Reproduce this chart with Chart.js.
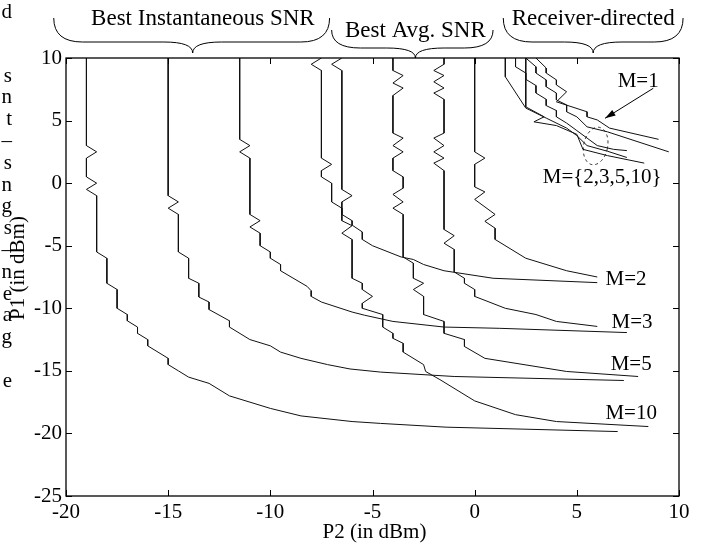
<!DOCTYPE html>
<html>
<head>
<meta charset="utf-8">
<script src="https://cdn.jsdelivr.net/npm/chart.js@4.4.1/dist/chart.umd.min.js"></script>
<style>
  html, body { margin: 0; padding: 0; background: #fff; }
  #wrap { width: 706px; height: 550px; }
</style>
</head>
<body>
<div id="wrap"><canvas id="chart" width="706" height="550"></canvas></div>
<script>
// axes: x = P2 (dBm), y = P1 (dBm)
const xTicks = [-20, -15, -10, -5, 0, 5, 10];
const yTicks = [10, 5, 0, -5, -10, -15, -20, -25];

// best instantaneous SNR contours, [P2, P1]
const instM10 = [[-19,10],[-19,3],[-18.5,2.5],[-19,2],[-19,0.5],[-18.5,0],[-19,-0.5],[-18.5,-1],[-18.5,-5.5],[-18,-6],[-18,-8],[-17.5,-8.5],[-17.5,-10],[-17,-10.5],[-17,-11],[-16.5,-11.5],[-16.5,-12],[-16,-12.5],[-16,-13],[-15,-14],[-15,-14.5],[-14.5,-15],[-14,-15.5],[-13,-16],[-12,-17],[-10,-18],[-8.5,-18.6],[-6,-19.05],[-4.6,-19.2],[-1.4,-19.5],[7,-19.85]];
const instM5 = [[-15,10],[-15,-1],[-14.5,-1.5],[-15,-2],[-14.5,-2.5],[-14.5,-5.5],[-14,-6],[-14,-7.6],[-13.5,-8],[-13.5,-9.1],[-13,-9.5],[-13,-10.1],[-12,-11],[-12,-11.5],[-11,-12.5],[-10,-13],[-9.5,-13.5],[-8.5,-14],[-7.2,-14.5],[-6.1,-14.85],[-4.6,-15.1],[-1,-15.45],[7.3,-15.77]];
const instM3 = [[-11.5,10],[-11.5,3.5],[-11,3],[-11.5,2.5],[-11,2],[-11,-2.5],[-10.5,-3],[-11,-3.5],[-10.5,-4],[-10.5,-5],[-10,-5.5],[-10,-6],[-9.5,-6.5],[-9.5,-7],[-8.2,-8.25],[-8,-8.6],[-8,-9.05],[-7.5,-9.5],[-6,-10.3],[-5.4,-10.55],[-4,-11.05],[-1.5,-11.5],[1.2,-11.6],[7.45,-11.94]];
const instM2 = [[-7.5,10],[-8,9.5],[-7.5,9],[-7.5,2],[-7,1.5],[-7.5,1],[-7.5,0.5],[-7,0],[-7,-1.5],[-6.5,-2],[-6.5,-2.5],[-6,-3],[-6,-3.35],[-5.5,-3.9],[-5.5,-4.5],[-5,-5],[-3.6,-5.9],[-3,-6.1],[-2.5,-6.5],[-1.5,-7],[0.9,-7.6],[6,-7.95]];

// best average SNR contours
const avgM10 = [[-6.5,10],[-7,9.5],[-6.5,9],[-6.5,-0.5],[-6,-1],[-6.5,-1.5],[-6.5,-3],[-6,-3.4],[-6.5,-4],[-6,-4.5],[-6,-7.6],[-5.5,-8],[-5.5,-8.5],[-5,-9.05],[-5.5,-9.6],[-5.5,-10],[-4.5,-10.5],[-4.5,-11.5],[-4,-12],[-4,-12.4],[-3.5,-12.8],[-3.5,-13.5],[-2.5,-14.5],[-2.4,-15.05],[-1.7,-15.7],[0,-17.4],[2,-18.5],[4,-19.05],[8.5,-19.45]];
const avgM5 = [[-4,10],[-4,9],[-3.5,8.6],[-4,8],[-3.5,7.6],[-4,7],[-4,4],[-3.5,3.6],[-4,3],[-3.5,2.5],[-4,2],[-4,1],[-3.5,0.5],[-3.5,-0.4],[-4,-0.9],[-3.5,-1.5],[-4,-2],[-3.5,-2.5],[-3.5,-5.9],[-3,-6.4],[-3,-7.6],[-2.5,-8],[-3,-8.5],[-2.5,-9.05],[-2.5,-10.5],[-1.5,-11.05],[-1.5,-12],[-0.5,-12.5],[-0.5,-13.05],[0.5,-14],[4.5,-15.05],[8,-15.45]];
const avgM3 = [[-1.5,10],[-1.5,9.5],[-2,9],[-1.5,8.6],[-2,8.1],[-1.5,7.6],[-2,7.2],[-1.5,6.7],[-1.5,4],[-2,3.6],[-1.5,3],[-2,2.5],[-1.5,2],[-2,1.6],[-1.5,1],[-1.5,-3.7],[-1,-4.2],[-1.5,-4.8],[-1,-5.3],[-1,-7.1],[-0.5,-7.6],[-0.5,-8],[0,-8.5],[0,-9.05],[1.5,-10],[3,-10.5],[4,-11.05],[6,-11.45]];
const avgM2 = [[0,10],[0,2.5],[0.5,2],[0,1.5],[0,-0.3],[0.5,-0.7],[0,-1.3],[1,-2.5],[0.5,-3.05],[1,-3.6],[1,-4.5],[2.5,-6],[4.5,-7],[6,-7.5]];

// receiver-directed contours
const rxM1 = [[3,10],[3.5,9.2],[3.5,8.8],[4,8.25],[4,7.85],[4.5,7.3],[4,6.5],[5.5,5.7],[5.5,5.3],[6,5.05],[6.6,4.4],[9,3.5]];
const rxA = [[2.5,10],[3,9.3],[3,8.8],[3.5,8.25],[3.5,7.7],[4,7.2],[4,6.65],[4.5,6.25],[4.5,5.7],[5,5.3],[5.5,4.5],[6.5,4.1],[9.5,2.5]];
const rxB = [[2,10],[2,9.3],[2.5,8.8],[2.5,8.3],[3,7.8],[3,7.2],[3.5,6.7],[3.5,6.2],[4,5.8],[4,5.3],[4.5,4.8],[5,4.2],[5.5,3.6],[6,3],[6.8,2.7],[7.45,2.6]];
const rxC = [[1.5,10],[1.5,8.5],[2.5,6],[3.5,5.2],[4.5,4.4],[5,3.8],[5.5,3],[6.5,2.55],[7.45,2.05]];
const rxD = [[2.5,10],[2.5,6.1],[3.4,5.3],[2.9,4.9],[4,4.6],[5,3.9],[5.3,2.7],[6.5,2.2],[8.3,1.6]];

const curves = [instM10, instM5, instM3, instM2, avgM10, avgM5, avgM3, avgM2, rxM1, rxA, rxB, rxC, rxD];

// curve labels, [text, P2, P1]
const curveLabels = [['M=1', 8.0, 8.15], ['M={2,3,5,10}', 6.24, 0.42], ['M=2', 7.41, -7.73], ['M=3', 7.7, -11.17], ['M=5', 7.66, -14.52], ['M=10', 7.66, -18.43]];
// group braces above the plot: [text, x from, x to, x of tip, text x]
const braces = [['Best Instantaneous SNR', -20.6, -7.1, -13.8, -13.3], ['Best Avg. SNR', -7.0, 0.9, -2.9, -2.9], ['Receiver-directed', 1.4, 10.2, 5.8, 5.8]];
// clipped words of the neighbouring text column
const sideLetters = ['s','n','t','\u2013','s','n','g','s','\u2013','n','e','a','g','','e'];

const FONT = "'Liberation Serif', 'Times New Roman', serif";

const decor = {
  id: 'decor',
  afterDraw(chart) {
    const {ctx, chartArea: a, scales: {x, y}} = chart;
    ctx.save();
    ctx.strokeStyle = '#000';
    ctx.fillStyle = '#000';
    // box + inward ticks
    ctx.lineWidth = 1.3;
    ctx.strokeRect(a.left, a.top, a.right - a.left, a.bottom - a.top);
    ctx.lineWidth = 1;
    ctx.beginPath();
    xTicks.forEach(v => {
      const px = Math.round(x.getPixelForValue(v)) + 0.5;
      ctx.moveTo(px, a.bottom); ctx.lineTo(px, a.bottom - 6);
      ctx.moveTo(px, a.top); ctx.lineTo(px, a.top + 6);
    });
    yTicks.forEach(v => {
      const py = Math.round(y.getPixelForValue(v)) + 0.5;
      ctx.moveTo(a.left, py); ctx.lineTo(a.left + 6, py);
      ctx.moveTo(a.right, py); ctx.lineTo(a.right - 6, py);
    });
    ctx.stroke();

    // axis titles
    ctx.font = '21px ' + FONT;
    ctx.textAlign = 'center';
    ctx.textBaseline = 'middle';
    ctx.fillText('P2 (in dBm)', (a.left + a.right) / 2 + 2, 532);
    ctx.save();
    ctx.translate(18, 268);
    ctx.rotate(-Math.PI / 2);
    ctx.fillText('P1 (in dBm)', 0, 0);
    ctx.restore();

    // curve labels
    curveLabels.forEach(([t, vx, vy]) => {
      ctx.fillText(t, x.getPixelForValue(vx), y.getPixelForValue(vy));
    });

    // arrow to M=1
    const ax0 = x.getPixelForValue(8.74), ay0 = y.getPixelForValue(7.58);
    const ax1 = x.getPixelForValue(6.38), ay1 = y.getPixelForValue(5.18);
    ctx.beginPath(); ctx.moveTo(ax0, ay0); ctx.lineTo(ax1, ay1); ctx.stroke();
    const ang = Math.atan2(ay1 - ay0, ax1 - ax0);
    ctx.beginPath();
    ctx.moveTo(ax1, ay1);
    ctx.lineTo(ax1 - 11 * Math.cos(ang - 0.3), ay1 - 11 * Math.sin(ang - 0.3));
    ctx.lineTo(ax1 - 11 * Math.cos(ang + 0.3), ay1 - 11 * Math.sin(ang + 0.3));
    ctx.closePath(); ctx.fill();

    // dashed ellipse around the M={2,3,5,10} group
    ctx.setLineDash([3, 3]);
    ctx.lineWidth = 0.8;
    ctx.beginPath();
    ctx.ellipse(x.getPixelForValue(5.92), y.getPixelForValue(2.97), 12, 19, 0.2, 0, Math.PI * 2);
    ctx.stroke();
    ctx.setLineDash([]);

    // braces
    ctx.lineWidth = 1;
    ctx.font = '23px ' + FONT;
    braces.forEach(([t, v0, v1, vm, vt], i) => {
      const x0 = x.getPixelForValue(v0), x1 = x.getPixelForValue(v1), xm = x.getPixelForValue(vm);
      const yEnd = i === 1 ? 30 : 18, yFlat = i === 1 ? 48 : 42, yTip = i === 1 ? 58 : 53;
      const r = 18;
      ctx.beginPath();
      ctx.moveTo(x0, yEnd);
      ctx.quadraticCurveTo(x0, yFlat, x0 + r * 1.6, yFlat);
      ctx.lineTo(xm - r * 1.6, yFlat);
      ctx.quadraticCurveTo(xm, yFlat, xm, yTip);
      ctx.quadraticCurveTo(xm, yFlat, xm + r * 1.6, yFlat);
      ctx.lineTo(x1 - r * 1.6, yFlat);
      ctx.quadraticCurveTo(x1, yFlat, x1, yEnd);
      ctx.stroke();
      ctx.fillText(t, x.getPixelForValue(vt), i === 1 ? 31 : 19);
    });

    // cut-off letters at the left edge
    ctx.font = '21px ' + FONT;
    ctx.textAlign = 'right';
    ctx.fillText('d', 12, 12);
    sideLetters.forEach((c, i) => ctx.fillText(c, 12, 76 + i * 21.8));
    ctx.restore();
  }
};

new Chart(document.getElementById('chart'), {
  type: 'scatter',
  data: {
    datasets: curves.map(c => ({
      data: c.map(p => ({x: p[0], y: p[1]})),
      showLine: true,
      borderColor: '#111',
      borderWidth: 1,
      pointRadius: 0,
      tension: 0,
      fill: false
    }))
  },
  options: {
    responsive: false,
    animation: false,
    events: [],
    layout: {padding: {left: 0, top: 58, right: 27, bottom: 0}},
    plugins: {legend: {display: false}, tooltip: {enabled: false}},
    scales: {
      x: {
        type: 'linear', min: -20, max: 10,
        afterBuildTicks: s => { s.ticks = xTicks.map(v => ({value: v})); },
        afterFit: s => { s.height = 54; },
        grid: {display: false, drawTicks: false},
        border: {display: false},
        ticks: {color: '#000', font: {family: FONT, size: 21}, padding: 4, maxRotation: 0, autoSkip: false}
      },
      y: {
        type: 'linear', min: -25, max: 10,
        afterBuildTicks: s => { s.ticks = yTicks.map(v => ({value: v})); },
        afterFit: s => { s.width = 66; },
        grid: {display: false, drawTicks: false},
        border: {display: false},
        ticks: {color: '#000', font: {family: FONT, size: 21}, padding: 4, autoSkip: false}
      }
    }
  },
  plugins: [decor]
});
</script>
</body>
</html>
